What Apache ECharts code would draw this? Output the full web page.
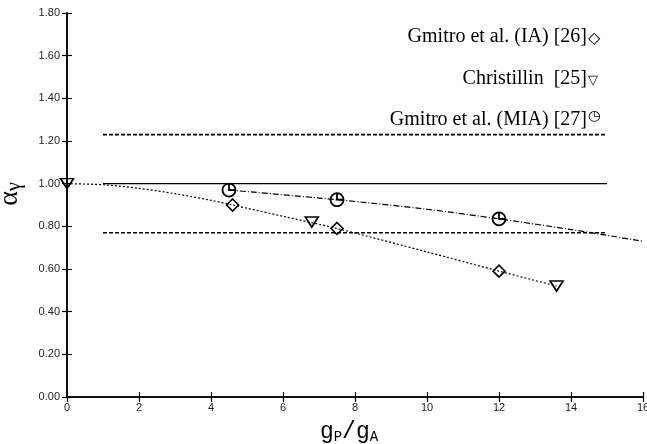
<!DOCTYPE html>
<html>
<head>
<meta charset="utf-8">
<script src="https://cdn.jsdelivr.net/npm/echarts@6/dist/echarts.min.js"></script>
<style>
  html, body { margin: 0; padding: 0; background: #fff; }
  #chart { width: 647px; height: 444px; }
</style>
</head>
<body>
<div id="chart"></div>
<script>
(function () {
    'use strict';

    // Markers
    var iaX = [4.6, 7.5, 12.0];          // Gmitro et al. (IA) [26]  - diamonds
    var iaY = [0.90, 0.79, 0.59];
    var chrX = [0, 6.8, 13.6];           // Christillin [25]        - triangles
    var chrY = [1.00, 0.82, 0.52];
    var miaX = [4.5, 7.5, 12.0];         // Gmitro et al. (MIA) [27] - clock circles
    var miaY = [0.97, 0.925, 0.835];

    // Curves through the points
    var dotCurveX = [0, 1, 2, 3, 4, 4.6, 6, 7.5, 10, 12, 13.6];
    var dotCurveY = [1.00, 0.995, 0.978, 0.953, 0.922, 0.90, 0.847, 0.79, 0.68, 0.59, 0.52];
    var dashDotX = [4.5, 7.5, 10, 12, 14, 16];
    var dashDotY = [0.97, 0.925, 0.88, 0.835, 0.785, 0.73];

    // Horizontal reference lines (from x=1 to x=15)
    var refRange = [1, 15];
    var refSolid = 1.00;
    var refDashed = [1.23, 0.77];

    var legendTexts = ['Gmitro et al. (IA) [26]', 'Christillin  [25]', 'Gmitro et al. (MIA) [27]'];
    var legendMarks = ['◇', '▽', '◷'];

    function pairs(xs, ys) {
        return xs.map(function (x, i) { return [x, ys[i]]; });
    }

    // circle with a hand up and a hand to the right (clock-like marker)
    var CLOCK = 'path://M0,10 A10,10 0 1,0 20,10 A10,10 0 1,0 0,10 Z M10,0 L10,10 L20,10';
    var LABEL_FONT = '"Liberation Sans", Arial, sans-serif';
    var SERIF = '"Liberation Serif", "Times New Roman", serif';
    var MONO = '"Liberation Mono", "DejaVu Sans Mono", monospace';

    var chart = echarts.init(document.getElementById('chart'));

    var series = [];

    series.push({
        type: 'line', data: pairs(refRange, [refSolid, refSolid]),
        symbol: 'none', silent: true,
        lineStyle: { color: '#000', width: 1.2, type: 'solid' }
    });
    refDashed.forEach(function (v) {
        series.push({
            type: 'line', data: pairs(refRange, [v, v]),
            symbol: 'none', silent: true,
            lineStyle: { color: '#000', width: 1.6, type: [4, 2] }
        });
    });
    series.push({
        type: 'line', data: pairs(dotCurveX, dotCurveY),
        symbol: 'none', smooth: 0.3, silent: true,
        lineStyle: { color: '#000', width: 1.2, type: [2, 2] }
    });
    series.push({
        type: 'line', data: pairs(dashDotX, dashDotY),
        symbol: 'none', smooth: 0.3, silent: true,
        lineStyle: { color: '#000', width: 1.2, type: [6, 2, 1, 2] }
    });
    series.push({
        type: 'scatter', data: pairs(iaX, iaY),
        symbol: 'diamond', symbolSize: [12, 12],
        itemStyle: { color: 'rgba(255,255,255,0)', borderColor: '#000', borderWidth: 1.6, opacity: 1 }
    });
    series.push({
        type: 'scatter', data: pairs(chrX, chrY),
        symbol: 'triangle', symbolSize: [13, 10], symbolRotate: 180,
        itemStyle: { color: 'rgba(255,255,255,0)', borderColor: '#000', borderWidth: 1.6, opacity: 1 }
    });
    series.push({
        type: 'scatter', data: pairs(miaX, miaY),
        symbol: CLOCK, symbolSize: [13, 13],
        itemStyle: { color: 'rgba(255,255,255,0)', borderColor: '#000', borderWidth: 1.8, opacity: 1 }
    });

    var axisLine = { show: true, lineStyle: { color: '#000', width: 1.5 } };
    var tick = { show: true, inside: true, length: 5, lineStyle: { color: '#000', width: 1.2 } };

    var rowY = [37, 79, 120];
    var markFont = ['16px', '13px', '14px'];
    var markDy = [2, 2, -4];
    var graphics = [];
    legendTexts.forEach(function (t, i) {
        graphics.push({
            type: 'text', x: 587, y: rowY[i],
            style: { text: t, font: '20px ' + SERIF, fill: '#000', align: 'right', verticalAlign: 'middle' }
        });
        graphics.push({
            type: 'text', x: 588, y: rowY[i] + markDy[i],
            style: { text: legendMarks[i], font: markFont[i] + ' "DejaVu Sans"', fill: '#000', align: 'left', verticalAlign: 'middle' }
        });
    });

    var option = {
        animation: false,
        backgroundColor: '#fff',
        grid: { left: 67, right: 4, top: 13, bottom: 47, outerBoundsMode: 'none', containLabel: false },
        xAxis: [{
            type: 'value', min: 0, max: 16, interval: 2,
            axisLine: axisLine, axisTick: tick, splitLine: { show: false },
            axisLabel: { fontFamily: LABEL_FONT, fontSize: 11, color: '#222', margin: 5 },
            name: '{g|g}{s|P}{g|/}{g|g}{s|A}',
            nameLocation: 'middle', nameGap: 23,
            nameTextStyle: {
                padding: [0, 12, 0, 0],
                rich: {
                    g: { fontFamily: MONO, fontSize: 23, color: '#000' },
                    s: { fontFamily: MONO, fontSize: 14, color: '#000', verticalAlign: 'bottom', padding: [10, 0, 0, 0] }
                }
            }
        }, {
            type: 'value', position: 'top', min: 0, max: 16, interval: 2,
            axisLine: axisLine, axisTick: tick, axisLabel: { show: false }, splitLine: { show: false }
        }],
        yAxis: [{
            type: 'value', min: 0, max: 1.8, interval: 0.2,
            axisLine: axisLine, axisTick: tick, splitLine: { show: false },
            axisLabel: {
                fontFamily: LABEL_FONT, fontSize: 11, color: '#222', margin: 7,
                formatter: function (v) { return v.toFixed(2); }
            },
            name: '{a|α}{s|γ}',
            nameLocation: 'middle', nameGap: 42,
            nameTextStyle: {
                padding: [0, 0, 0, 22],
                rich: {
                    a: { fontFamily: SERIF, fontSize: 28, color: '#000' },
                    s: { fontFamily: SERIF, fontSize: 20, color: '#000', verticalAlign: 'bottom', padding: [10, 0, 0, 0] }
                }
            }
        }, {
            type: 'value', position: 'right', min: 0, max: 1.8, interval: 0.2,
            axisLine: axisLine, axisTick: tick, axisLabel: { show: false }, splitLine: { show: false }
        }],
        graphic: graphics,
        series: series
    };

    chart.setOption(option);
})();
</script>
</body>
</html>
